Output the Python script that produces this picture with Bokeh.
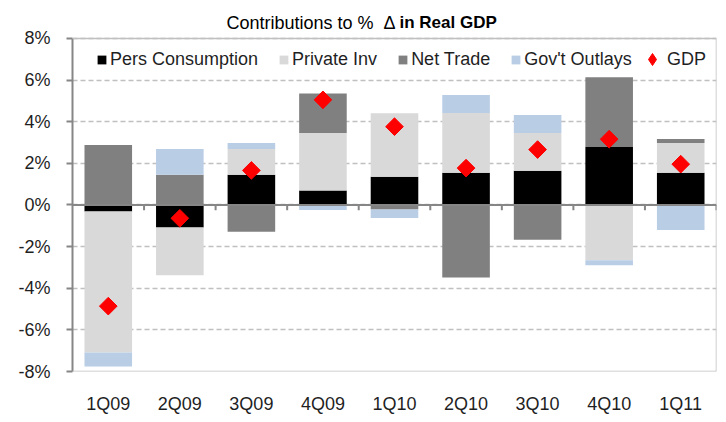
import numpy as np
from bokeh.plotting import figure
from bokeh.models import (ColumnDataSource, FixedTicker, Legend, LegendItem, Label, Span)
from bokeh.embed import file_html
from bokeh.resources import INLINE

categories = ["1Q09", "2Q09", "3Q09", "4Q09", "1Q10", "2Q10", "3Q10", "4Q10", "1Q11"]
pers_consumption = [-0.32, -1.08, 1.45, 0.69, 1.35, 1.55, 1.64, 2.79, 1.55]
private_inv = [-6.77, -2.30, 1.24, 2.77, 3.05, 2.87, 1.82, -2.66, 1.43]
net_trade = [2.88, 1.45, -1.29, 1.89, -0.22, -3.49, -1.67, 3.35, 0.19]
govt_outlays = [-0.67, 1.24, 0.29, -0.24, -0.41, 0.86, 0.86, -0.24, -1.20]
gdp = [-4.86, -0.64, 1.66, 5.05, 3.76, 1.77, 2.66, 3.16, 1.96]
y_ticks = [-8, -6, -4, -2, 0, 2, 4, 6, 8]

series_names = ["Pers Consumption", "Private Inv", "Net Trade", "Gov't Outlays"]
series_vals = [pers_consumption, private_inv, net_trade, govt_outlays]
series_colors = ["#000000", "#d9d9d9", "#808080", "#b9cde5"]

FONT = "Liberation Sans"
TXT = "#1f1f1f"
BORDER = "#c0c0c0"
AXIS = "#868686"

n = len(categories)
xs = np.arange(n)
y_lo, y_hi = y_ticks[0], y_ticks[-1]

W, H = 718, 416
BT, BB, BL, BR = 8, 44, 72, 2
FH = H - BT - BB
TOP_PAD = 30                      # px between frame top and the 8% line (title area)
PLOT_PX = FH - TOP_PAD
y_end = y_hi + (y_hi - y_lo) * TOP_PAD / PLOT_PX

p = figure(width=W, height=H, output_backend="svg", toolbar_location=None,
           x_range=(-0.5, n - 0.5), y_range=(y_lo, y_end),
           min_border_left=BL, min_border_right=BR, min_border_top=BT, min_border_bottom=BB)
p.background_fill_color = "white"
p.border_fill_color = "white"
p.outline_line_color = None

# grid
p.xgrid.grid_line_color = None
p.ygrid.ticker = FixedTicker(ticks=y_ticks)
p.ygrid.grid_line_color = BORDER
p.ygrid.grid_line_dash = "5 3"
p.ygrid.grid_line_width = 1.5

# plot-area border (top, bottom, right)
p.add_layout(Span(location=y_hi, dimension="width", line_color=BORDER, line_width=1.5))
p.add_layout(Span(location=y_lo, dimension="width", line_color=BORDER, line_width=1.5))
rsrc = ColumnDataSource(dict(x=[n - 0.5], y0=[y_lo], y1=[y_hi]))
p.segment(x0="x", x1="x", y0="y0", y1="y1", source=rsrc, line_color=BORDER, line_width=1.5)

# stacked bars: positives stack upward from 0, negatives downward
pos_base = np.zeros(n)
neg_base = np.zeros(n)
renderers = []
for name, vals, col in zip(series_names, series_vals, series_colors):
    v = np.array(vals, dtype=float)
    bottom = np.where(v >= 0, pos_base, neg_base)
    top = bottom + v
    src = ColumnDataSource(dict(x=xs, bottom=bottom, top=top))
    r = p.vbar(x="x", bottom="bottom", top="top", width=0.665, source=src,
               fill_color=col, line_color=None)
    renderers.append(r)
    pos_base = np.where(v >= 0, top, pos_base)
    neg_base = np.where(v < 0, top, neg_base)

# zero line with category boundary ticks
p.add_layout(Span(location=0, dimension="width", line_color=AXIS, line_width=2))
bsrc = ColumnDataSource(dict(x=xs + 0.5, y0=np.zeros(n), y1=np.full(n, -0.26)))
p.segment(x0="x", x1="x", y0="y0", y1="y1", source=bsrc, line_color=AXIS, line_width=2)

gsrc = ColumnDataSource(dict(x=xs, y=gdp))
gr = p.scatter(x="x", y="y", source=gsrc, marker="square", angle=np.pi / 4,
               size=12.5, fill_color="#ff0000", line_color="#ff0000")
# legend swatch for GDP (a NaN point: draws nothing in the plot)
gleg = p.scatter(x=[np.nan], y=[np.nan], marker="diamond",
                 fill_color="#ff0000", line_color="#ff0000")

# y axis
p.yaxis.bounds = (y_lo, y_hi)
p.yaxis.ticker = FixedTicker(ticks=y_ticks)
p.yaxis.major_label_overrides = {t: f"{t}%" for t in y_ticks}
p.yaxis.axis_line_color = AXIS
p.yaxis.axis_line_width = 2
p.yaxis.major_tick_line_color = AXIS
p.yaxis.major_tick_line_width = 2
p.yaxis.major_tick_out = 6
p.yaxis.major_tick_in = 0
p.yaxis.minor_tick_line_color = None
p.yaxis.major_label_standoff = 16
p.yaxis.major_label_text_font = FONT
p.yaxis.major_label_text_font_size = "18px"
p.yaxis.major_label_text_color = TXT

# x axis
p.xaxis.ticker = FixedTicker(ticks=list(xs))
p.xaxis.major_label_overrides = {int(i): c for i, c in zip(xs, categories)}
p.xaxis.axis_line_color = None
p.xaxis.major_tick_line_color = None
p.xaxis.major_tick_out = 0
p.xaxis.minor_tick_line_color = None
p.xaxis.major_label_standoff = 22
p.xaxis.major_label_text_font = FONT
p.xaxis.major_label_text_font_size = "18px"
p.xaxis.major_label_text_color = TXT

# legends
common = dict(orientation="horizontal", label_standoff=3, spacing=20, padding=4, margin=0,
              border_line_color=None, background_fill_alpha=0, label_height=22,
              label_text_font=FONT, label_text_font_size="18px", label_text_color=TXT)
items = [LegendItem(label=nm, renderers=[r]) for nm, r in zip(series_names, renderers)]
legend1 = Legend(items=items, location=(24, PLOT_PX - 18 - 15),
                 glyph_width=11, glyph_height=11, **common)
legend2 = Legend(items=[LegendItem(label="GDP", renderers=[gleg])],
                 location=(565, PLOT_PX - 18 - 19), glyph_width=30, glyph_height=30,
                 **dict(common, label_standoff=0))
p.add_layout(legend1)
p.add_layout(legend2)

# title (regular + bold parts), inside the top pad of the frame
t1 = Label(x=323, y=PLOT_PX + 15, x_units="screen", y_units="screen",
           text="Contributions to %\u00a0\u00a0\u0394",
           text_font=FONT, text_font_size="18px", text_color="#000000",
           text_baseline="alphabetic", text_align="right")
t2 = Label(x=327, y=PLOT_PX + 15, x_units="screen", y_units="screen", text="in Real GDP",
           text_font=FONT, text_font_size="17px", text_font_style="bold",
           text_color="#000000", text_baseline="alphabetic", text_align="left")
p.add_layout(t1)
p.add_layout(t2)

open("out.html", "w").write(file_html(p, INLINE))
